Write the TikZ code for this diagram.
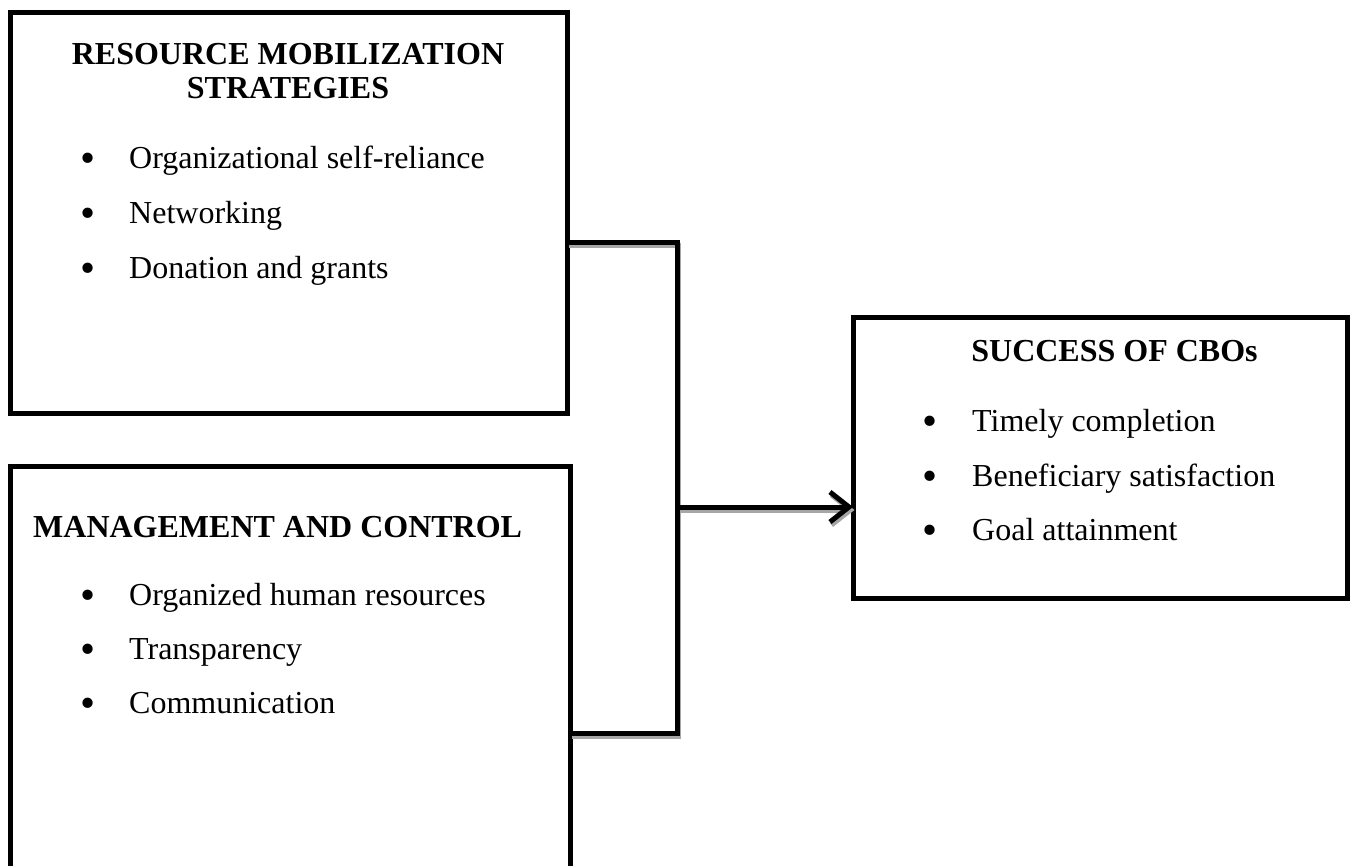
\documentclass[tikz,border=0pt]{standalone}
\usepackage{fontspec}
\setmainfont{Liberation Serif}
\usetikzlibrary{arrows.meta}
\newcommand\itembul[1]{\makebox[#1][l]{\raisebox{-4.5pt}{\fontsize{43}{43}\selectfont\textbullet}}}
\begin{document}
\begin{tikzpicture}[x=1pt,y=-1pt,
  box/.style={draw=black,line width=5pt,anchor=north west,inner sep=0pt,outer sep=0pt},
  ttl/.style={font=\fontsize{32}{37}\selectfont\bfseries,inner sep=0pt},
  itm/.style={font=\fontsize{32}{37}\selectfont,anchor=base west,inner sep=0pt},
  conn/.style={line width=5pt,draw=black},
  shade/.style={line width=5pt,draw=black!35},
  tip/.style={-{Straight Barb[length=19pt,width=30pt]}}]
\useasboundingbox (0,0) rectangle (1352,865);
% boxes
\node[box,minimum width=557pt,minimum height=401pt] (rms) at (10,12) {};
\node[box,minimum width=560pt,minimum height=520pt] (mc) at (10,466) {};
\node[box,minimum width=494pt,minimum height=281pt] (suc) at (853,317) {};
% texts box 1
\node[ttl,anchor=base] (t1a) at (288,64) {RESOURCE MOBILIZATION};
\node[ttl,anchor=base] (t1b) at (288,98) {STRATEGIES};
\node[itm] (a1) at (80.5,168) {\itembul{48.5pt}Organizational self-reliance};
\node[itm] (a2) at (80.5,223) {\itembul{48.5pt}Networking};
\node[itm] (a3) at (80.5,278) {\itembul{48.5pt}Donation and grants};
% texts box 2
\node[ttl,anchor=base west] (t2) at (33,537) {MANAGEMENT AND CONTROL};
\node[itm] (b1) at (80.5,605) {\itembul{48.5pt}Organized human resources};
\node[itm] (b2) at (80.5,659) {\itembul{48.5pt}Transparency};
\node[itm] (b3) at (80.5,713) {\itembul{48.5pt}Communication};
% texts box 3
\node[ttl,anchor=base] (t3) at (1114.5,361) {SUCCESS OF CBOs};
\node[itm] (c1) at (922.5,431) {\itembul{49.5pt}Timely completion};
\node[itm] (c2) at (922.5,486) {\itembul{49.5pt}Beneficiary satisfaction};
\node[itm] (c3) at (922.5,540) {\itembul{49.5pt}Goal attainment};
% connector coordinates
\coordinate (j1) at (677,242);
\coordinate (j2) at (677,733);
\coordinate (j3) at (677,507);
% shadows
\begin{scope}[transform canvas={xshift=1.5pt,yshift=-3pt}]
\draw[shade] (rms.east |- j1) -- (j1) -- (j2) -- (mc.east |- j2);
\draw[shade,tip] (j3) -- (suc.west |- j3);
\end{scope}
% connectors
\draw[conn] (rms.east |- j1) -- (j1) -- (j2) -- (mc.east |- j2);
\draw[conn,tip] (j3) -- (suc.west |- j3);
\end{tikzpicture}
\end{document}
